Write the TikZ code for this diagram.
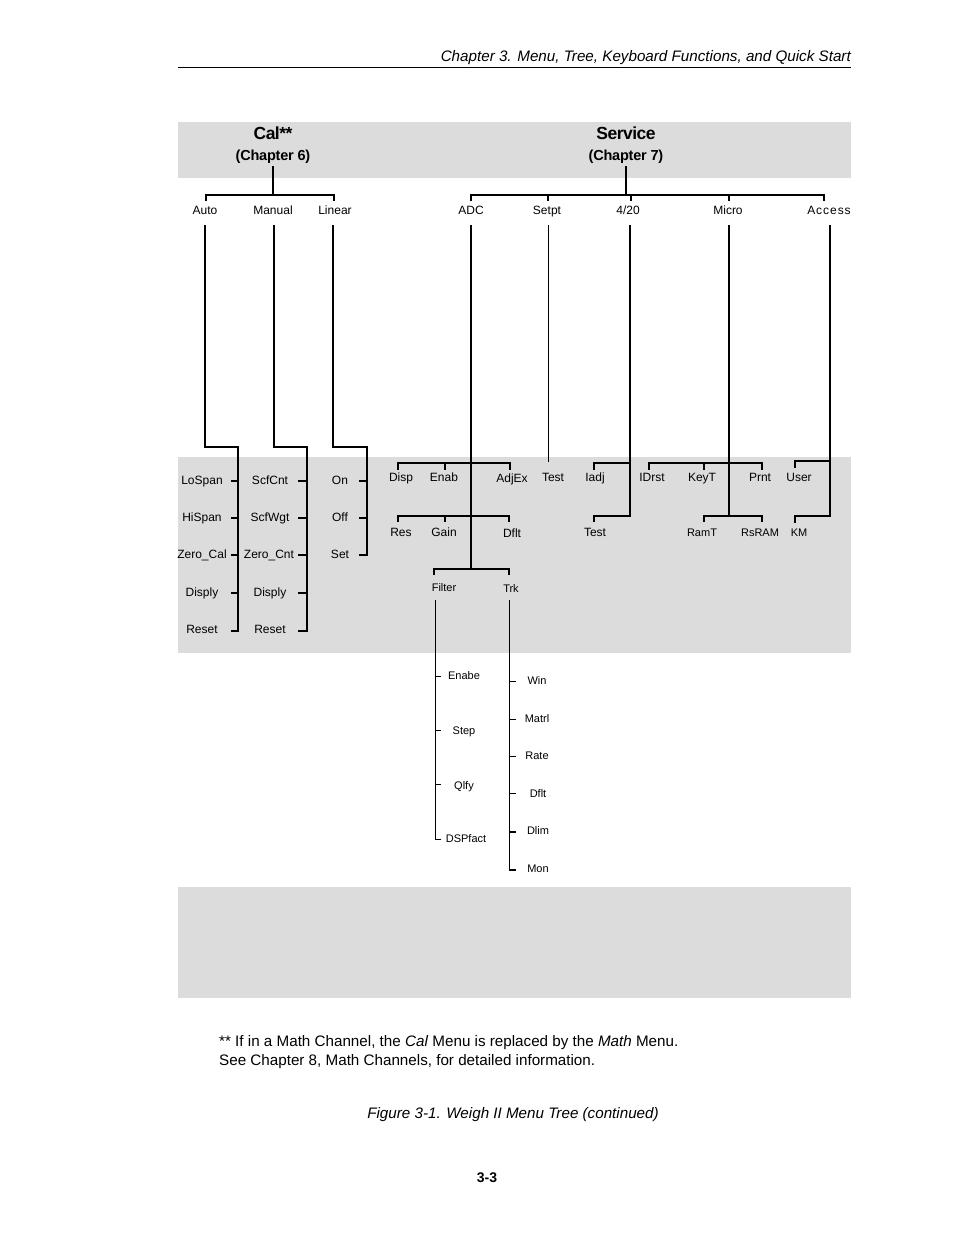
\documentclass[tikz,border=0pt]{standalone}
\usepackage{fontspec}
\setmainfont{Liberation Sans}
\definecolor{band}{HTML}{DCDCDC}
\begin{document}
\begin{tikzpicture}[x=1pt,y=-1pt,
 lab/.style={font=\fontsize{12}{14}\selectfont, inner sep=0pt, anchor=base},
 sml/.style={font=\fontsize{11}{13}\selectfont, inner sep=0pt, anchor=base},
 ttl/.style={font=\fontsize{17.5}{20}\selectfont\bfseries\addfontfeatures{LetterSpace=-3}, inner sep=0pt, anchor=base},
 chp/.style={font=\fontsize{14.5}{16}\selectfont\bfseries\addfontfeatures{LetterSpace=-1.5}, inner sep=0pt, anchor=base},
 body/.style={font=\fontsize{15.2}{18}\selectfont, inner sep=0pt},
 thk/.style={line width=1.7pt, line join=miter},
 thn/.style={line width=0.9pt, line join=miter},
]
\useasboundingbox (0,0) rectangle (954,1235);
\fill[white] (0,0) rectangle (954,1235);
\fill[band] (178,122) rectangle (851,178);
\fill[band] (178,457) rectangle (851,653);
\fill[band] (178,887) rectangle (851,998);

% header
\node[body, font=\fontsize{15.2}{18}\selectfont\itshape, anchor=base east] (hdr) at (851,61) {Chapter 3. Menu, Tree, Keyboard Functions, and Quick Start};
\coordinate (rl) at (178,67.5); \coordinate (rr) at (851,67.5);
\draw[line width=0.8pt] (rl) -- (rr);

% titles
\node[ttl] (cal) at (273,139) {Cal**};
\node[chp] (calch) at (273,160) {(Chapter 6)};
\node[ttl] (svc) at (626,139) {Service};
\node[chp] (svcch) at (626,160) {(Chapter 7)};

% level 1 labels
\node[lab] (auto) at (205,214) {Auto};
\node[lab] (manual) at (273,214) {Manual};
\node[lab] (linear) at (335,214) {Linear};
\node[lab] (adc) at (471,214) {ADC};
\node[lab] (setpt) at (547,214) {Setpt};
\node[lab] (f420) at (628,214) {4/20};
\node[lab] (micro) at (728,214) {Micro};
\node[lab,font=\fontsize{12}{14}\selectfont\addfontfeatures{LetterSpace=8}] (access) at (829,214) {Access};

% Cal connectors
\draw[thk] (273,166) -- (273,195);
\draw[line width=1.4pt] (206,201) -- (206,195) -- (334,195) -- (334,201);
% Service connectors
\draw[thk] (626,166) -- (626,195);
\draw[line width=1.4pt] (471,201) -- (471,195) -- (824,195) -- (824,201);
\foreach \x in {548,631,729} \draw[line width=1.4pt] (\x,195) -- (\x,201);

% Cal subtrees
\draw[thk] (205,225) |- (238,447) -- (238,631) -- (231,631);
\foreach \y in {481,518,555,593} \draw[thk] (231,\y) -- (238,\y);
\draw[thk] (274,225) |- (307,447) -- (307,631) -- (298,631);
\foreach \y in {481,518,555,593} \draw[thk] (298,\y) -- (307,\y);
\draw[thk] (333,225) |- (367,447) -- (367,555) -- (359,555);
\foreach \y in {481,518} \draw[thk] (359,\y) -- (367,\y);

\node[lab] (lospan) at (202,484) {LoSpan};
\node[lab] (hispan) at (202,521) {HiSpan};
\node[lab] (zerocal) at (202,558) {Zero\_Cal};
\node[lab] (disply1) at (202,596) {Disply};
\node[lab] (reset1) at (202,633) {Reset};
\node[lab] (scfcnt) at (270,484) {ScfCnt};
\node[lab] (scfwgt) at (270,521) {ScfWgt};
\node[lab] (zerocnt) at (269,558) {Zero\_Cnt};
\node[lab] (disply2) at (270,596) {Disply};
\node[lab] (reset2) at (270,633) {Reset};
\node[lab] (on) at (340,484) {On};
\node[lab] (off) at (340,521) {Off};
\node[lab] (set) at (340,558) {Set};

% ADC subtree
\draw[thk] (471,225) -- (471,569);
\draw[thk] (398,470) -- (398,463) -- (510,463) -- (510,470);
\draw[thk] (445,463) -- (445,470);
\draw[thk] (398,522) -- (398,516) -- (509,516) -- (509,522);
\draw[thk] (445,516) -- (445,522);
\draw[thk] (434,575) -- (434,569) -- (509,569) -- (509,575);
\node[lab] (disp) at (401,481) {Disp};
\node[lab] (enab) at (444,481) {Enab};
\node[lab] (adjex) at (512,482) {AdjEx};
\node[lab] (res) at (401,536) {Res};
\node[lab] (gain) at (444,536) {Gain};
\node[lab] (dflt1) at (512,537) {Dflt};
\node[sml] (filter) at (444,591) {Filter};
\node[sml] (trk) at (511,592) {Trk};

% Setpt
\draw[thn] (548,225) -- (548,462);
\node[lab] (test1) at (553,481) {Test};

% 4/20
\draw[thk] (630,225) -- (630,516) -- (594,516) -- (594,522);
\draw[thk] (594,470) -- (594,463) -- (630,463);
\node[lab] (iadj) at (595,481) {Iadj};
\node[lab] (test2) at (595,536) {Test};

% Micro
\draw[thk] (729,225) -- (729,516);
\draw[thk] (649,470) -- (649,463) -- (762,463) -- (762,470);
\draw[thk] (704,463) -- (704,470);
\draw[thk] (704,522) -- (704,516) -- (762,516) -- (762,522);
\node[lab] (idrst) at (652,481) {IDrst};
\node[lab] (keyt) at (702,481) {KeyT};
\node[lab] (prnt) at (760,481) {Prnt};
\node[sml] (ramt) at (702,536) {RamT};
\node[sml] (rsram) at (760,536) {RsRAM};

% Access
\draw[thk] (830,225) -- (830,516) -- (795,516) -- (795,523);
\draw[thk] (795,468) -- (795,461) -- (830,461);
\node[lab] (user) at (799,481) {User};
\node[sml] (km) at (799,536) {KM};

% Filter subtree
\draw[thn] (435,600) -- (435,839) -- (441,839);
\foreach \y in {676,730,784} \draw[thn] (435,\y) -- (441,\y);
\node[sml] (enabe) at (464,679) {Enabe};
\node[sml] (step1) at (464,734) {Step};
\node[sml] (qlfy) at (464,789) {Qlfy};
\node[sml] (dspfact) at (466,842) {DSPfact};

% Trk subtree
\draw[thn] (509,600) -- (509,870);
\foreach \y in {681,719,756,793} \draw[thn] (509,\y) -- (516,\y);
\draw[thk] (509,832) -- (516,832);
\draw[thk] (509.4,870) -- (516,870);
\node[sml] (win) at (537,684) {Win};
\node[sml] (matrl) at (537,722) {Matrl};
\node[sml] (rate) at (537,759) {Rate};
\node[sml] (dflt2) at (538,797) {Dflt};
\node[sml] (dlim) at (538,834) {Dlim};
\node[sml] (mon) at (538,872) {Mon};

% footnote
\node[body, anchor=base west] (fn1) at (219,1046) {** If in a Math Channel, the \textit{Cal} Menu is replaced by the \textit{Math} Menu.};
\node[body, anchor=base west] (fn2) at (219,1065) {See Chapter 8, Math Channels, for detailed information.};

% caption and page number
\node[body, font=\fontsize{15.2}{18}\selectfont\itshape, anchor=base] (cap) at (513,1118) {Figure 3-1. Weigh II Menu Tree (continued)};
\node[font=\fontsize{14}{16}\selectfont\bfseries, anchor=base, inner sep=0pt] (pg) at (487,1182) {3-3};
\end{tikzpicture}
\end{document}
